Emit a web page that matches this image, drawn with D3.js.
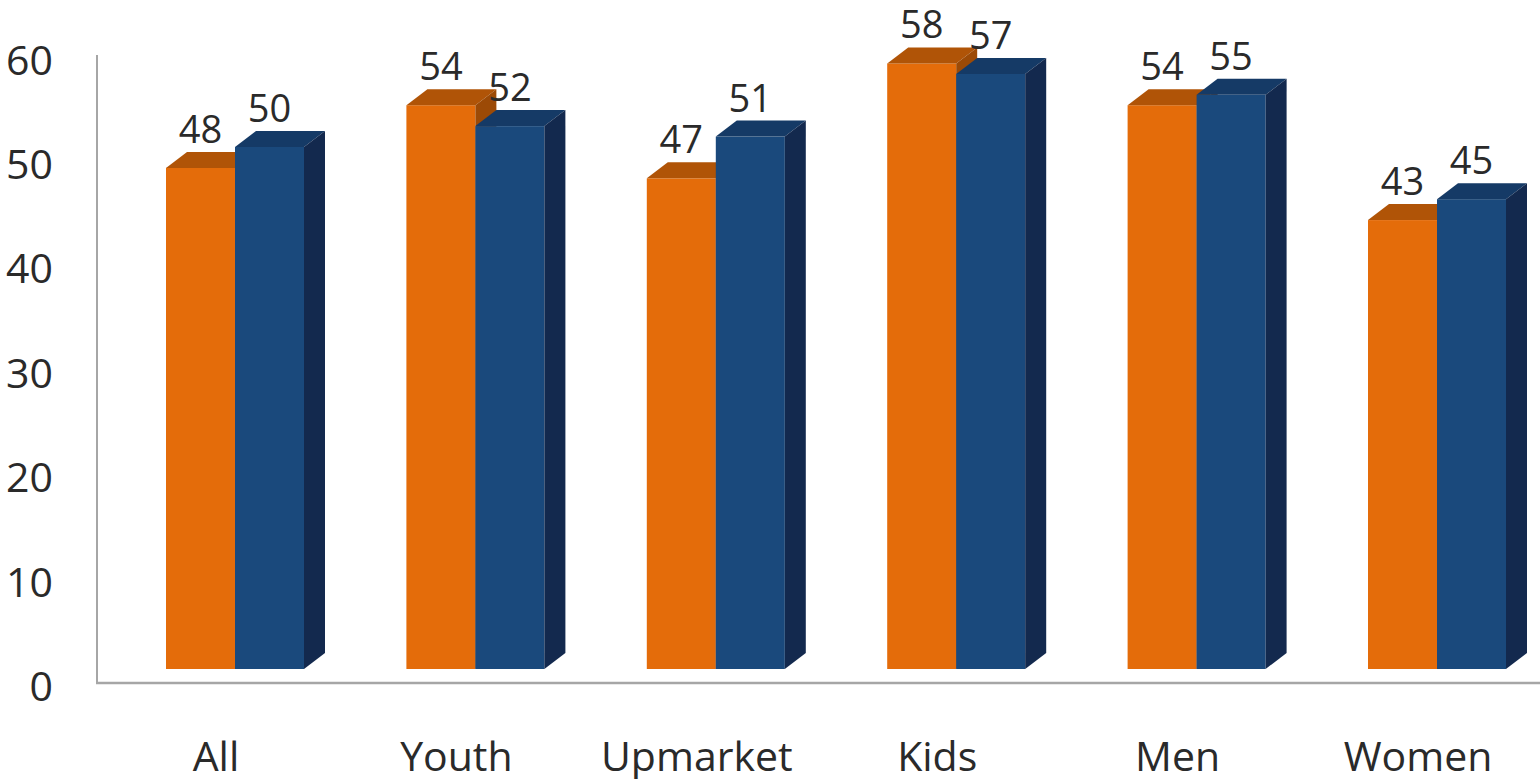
<!DOCTYPE html>
<html lang="en">
<head>
	<meta charset="utf-8">
	<title>3D grouped bars</title>
	<script src="https://d3js.org/d3.v7.min.js" charset="utf-8"></script>
	<style>
		body { margin: 0; background: #fff; }
		text { font-family: "Open Sans", sans-serif; fill: #2a2a2a; }
	</style>
</head>
<body>
	<script>
  // Chart data
  var categories = [ "All", "Youth", "Upmarket", "Kids", "Men", "Women" ];
  var seriesA = [ 48, 54, 47, 58, 54, 43 ];
  var seriesB = [ 50, 52, 51, 57, 55, 45 ];
  var yTicks = [ 0, 10, 20, 30, 40, 50, 60 ];

  var width = 1540;
  var height = 779;

  // depth offset of the fake 3d boxes
  var dx = 21, dy = -16;

  var svg = d3.select( "body" )
      .append( "svg" )
      .attr( "width", width )
      .attr( "height", height );

  // value scale for the front face of the bars
  var y = d3.scaleLinear()
    .domain( [0, 60] )
    .range( [669, 669 - 60 * 10.44] );

  var x0 = d3.scaleBand()
    .domain( categories )
    .range( [114.8, 114.8 + 6 * 240.4] );

  var x1 = d3.scaleBand()
    .domain( ["a", "b"] )
    .range( [120.2 - 69, 120.2 + 69] );

  var colors = {
    a: { front: "#e46c0a", top: "#b05407", side: "#9c4a06" },
    b: { front: "#1a497c", top: "#153a66", side: "#13294e" }
  };

  // axis lines
  svg.append( "line" )
    .attr( "x1", 97 ).attr( "x2", 97 )
    .attr( "y1", 55 ).attr( "y2", 683 )
    .attr( "stroke", "#a6a6a6" ).attr( "stroke-width", 2 );
  svg.append( "line" )
    .attr( "x1", 96 ).attr( "x2", width )
    .attr( "y1", 683 ).attr( "y2", 683 )
    .attr( "stroke", "#a6a6a6" ).attr( "stroke-width", 2.5 );

  // tick labels
  svg.append( "g" ).selectAll( "text" )
    .data( yTicks )
    .enter()
    .append( "text" )
    .attr( "x", 53 )
    .attr( "y", function( d ) { return y( d ) + 16; } )
    .attr( "text-anchor", "end" )
    .attr( "dominant-baseline", "central" )
    .attr( "font-size", 41 )
    .text( function( d ) { return d; } );

  // rows of bars
  var rows = categories.map( function( c, i ) {
    return { cat: c, vals: [ { key: "a", v: seriesA[i] }, { key: "b", v: seriesB[i] } ] };
  } );

  var groups = svg.append( "g" ).selectAll( "g" )
    .data( rows )
    .enter()
    .append( "g" )
    .attr( "transform", function( d ) { return "translate(" + x0( d.cat ) + ",0)"; } );

  function box( sel ) {
    sel.each( function( d ) {
      var g = d3.select( this );
      var l = x1( d.key ), r = l + x1.bandwidth();
      var t = y( d.v ), b = y( 0 );
      var c = colors[ d.key ];
      g.append( "rect" )
        .attr( "x", l ).attr( "y", t )
        .attr( "width", r - l ).attr( "height", b - t )
        .attr( "fill", c.front );
      g.append( "path" )
        .attr( "d", "M" + l + "," + t + "L" + (l + dx) + "," + (t + dy) +
          "L" + (r + dx) + "," + (t + dy) + "L" + r + "," + t + "Z" )
        .attr( "fill", c.top );
      g.append( "path" )
        .attr( "d", "M" + r + "," + t + "L" + (r + dx) + "," + (t + dy) +
          "L" + (r + dx) + "," + (b + dy) + "L" + r + "," + b + "Z" )
        .attr( "fill", c.side );
    } );
  }

  groups.selectAll( "g.bar" )
    .data( function( d ) { return d.vals; } )
    .enter()
    .append( "g" )
    .attr( "class", "bar" )
    .call( box );

  // value labels
  groups.selectAll( "text.val" )
    .data( function( d ) { return d.vals; } )
    .enter()
    .append( "text" )
    .attr( "class", "val" )
    .attr( "x", function( d ) { return x1( d.key ) + x1.bandwidth() / 2; } )
    .attr( "y", function( d ) { return y( d.v ) - 25; } )
    .attr( "text-anchor", "middle" )
    .attr( "font-size", 38 )
    .text( function( d ) { return d.v; } );

  // category labels
  groups.append( "text" )
    .attr( "x", x0.bandwidth() / 2 - 19 )
    .attr( "y", 771 )
    .attr( "text-anchor", "middle" )
    .attr( "font-size", 41 )
    .text( function( d ) { return d.cat; } );
  </script>
</body>
</html>
